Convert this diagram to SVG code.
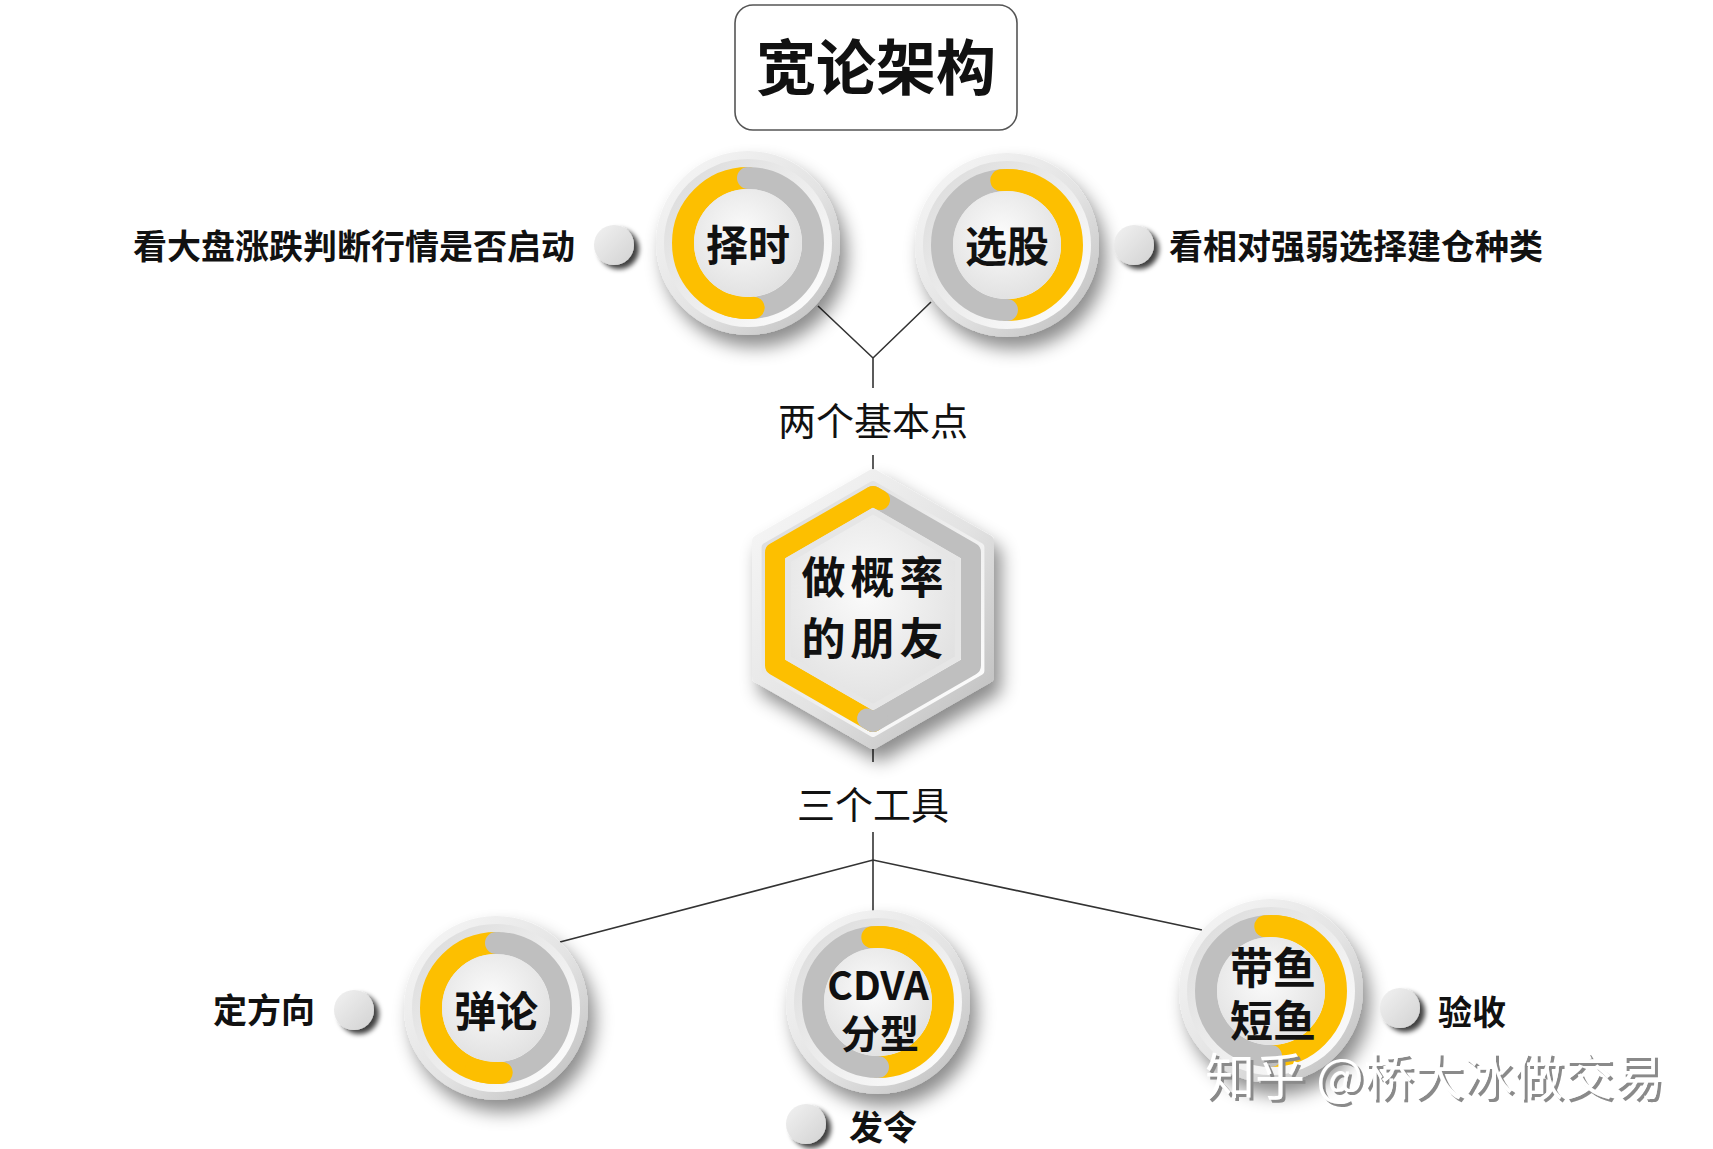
<svg xmlns="http://www.w3.org/2000/svg" width="1713" height="1149" viewBox="0 0 1713 1149">
<style>
.cjk{font-family:'Noto Sans CJK SC','Noto Sans',sans-serif}
.b{font-weight:700;fill:#111}
.mid{text-anchor:middle;dominant-baseline:central}
.lbl{font-size:34px;dominant-baseline:central}
.ry{fill:none;stroke:#FDBF00;stroke-width:22;stroke-linecap:round}
.rg{fill:none;stroke:#BFBFBF;stroke-width:22;stroke-linecap:round}
.hy{fill:none;stroke:#FDBF00;stroke-width:20;stroke-linecap:round;stroke-linejoin:round}
.hg{fill:none;stroke:#BFBFBF;stroke-width:20;stroke-linecap:round;stroke-linejoin:round}
.con{fill:none;stroke:#333;stroke-width:1.6}
.dot{fill:url(#gDot);filter:url(#dotShadow)}
</style>
<defs>
<linearGradient id="gOuter" x1="0" y1="0" x2="1" y2="1">
<stop offset="0" stop-color="#f8f8f8"/><stop offset="0.55" stop-color="#e3e3e3"/><stop offset="1" stop-color="#bcbcbc"/>
</linearGradient>
<linearGradient id="gBevel" x1="0" y1="0" x2="1" y2="1">
<stop offset="0" stop-color="#dadada"/><stop offset="1" stop-color="#ffffff"/>
</linearGradient>
<radialGradient id="gFace" cx="0.45" cy="0.4" r="0.65">
<stop offset="0" stop-color="#fbfbfb"/><stop offset="1" stop-color="#e0e0e0"/>
</radialGradient>
<linearGradient id="gDot" x1="0" y1="0" x2="1" y2="1">
<stop offset="0" stop-color="#f2f2f2"/><stop offset="1" stop-color="#d2d2d2"/>
</linearGradient>
<filter id="shadow" x="-30%" y="-30%" width="170%" height="170%">
<feDropShadow dx="7" dy="12" stdDeviation="9" flood-color="#000" flood-opacity="0.45"/>
</filter>
<filter id="dotShadow" x="-60%" y="-60%" width="240%" height="240%">
<feDropShadow dx="5" dy="4" stdDeviation="2.5" flood-color="#000" flood-opacity="0.75"/>
</filter>
<filter id="wmShadow" x="-5%" y="-20%" width="110%" height="140%">
<feDropShadow dx="3" dy="3" stdDeviation="0.6" flood-color="#8a8a8a" flood-opacity="1"/>
</filter>
<g id="disc">
<circle r="92" fill="url(#gOuter)" filter="url(#shadow)"/>
<circle r="84" fill="url(#gBevel)"/>
</g>
<g id="ringL">
<path class="ry" d="M0,-65 A65,65 0 0 0 0,65"/>
<path class="rg" d="M0,-65 A65,65 0 0 1 0,65"/>
<path class="ry" d="M-20.1,61.8 A65,65 0 0 0 5.7,64.75"/>
</g>
</defs>

<rect width="1713" height="1149" fill="#ffffff"/>

<g id="connectors">
<path class="con" d="M818,306 L873,358 L931,302 M873,358 V388"/>
<path class="con" d="M873,455 V480"/>
<path class="con" d="M873,740 V762"/>
<path class="con" d="M873,832 V860"/>
<path class="con" d="M560,942 L873,860 L1202,930 M873,860 V915"/>
</g>

<g id="title">
<rect x="735" y="5" width="282" height="125" rx="18" fill="#fff" stroke="#555" stroke-width="1.6"/>
<text class="cjk b mid" x="876" y="63" font-size="60" font-weight="900">宽论架构</text>
</g>

<g id="node-zeshi" transform="translate(748,243)">
<use href="#disc"/>
<use href="#ringL"/>
<circle r="54" fill="url(#gFace)"/>
<text class="cjk b mid" y="-1" font-size="42">择时</text>
</g>

<g id="node-xuangu" transform="translate(1007,245)">
<use href="#disc"/>
<use href="#ringL" transform="rotate(180)"/>
<circle r="54" fill="url(#gFace)"/>
<text class="cjk b mid" y="-2" font-size="42">选股</text>
</g>

<g id="label-left">
<circle class="dot" cx="614" cy="245" r="20"/>
<text class="cjk b lbl" x="133" y="244">看大盘涨跌判断行情是否启动</text>
</g>

<g id="label-right">
<circle class="dot" cx="1134" cy="245" r="20"/>
<text class="cjk b lbl" x="1169" y="244">看相对强弱选择建仓种类</text>
</g>

<g id="label-two">
<text class="cjk mid" x="873" y="418" font-size="38" fill="#111">两个基本点</text>
</g>

<g id="node-hex">
<polygon points="873,475 988,541 988,677 873,743 758,677 758,541" fill="url(#gOuter)" stroke="url(#gOuter)" stroke-width="12" stroke-linejoin="round" filter="url(#shadow)"/>
<polygon points="873,485 980.4,547 980.4,671 873,733 765.6,671 765.6,547" fill="url(#gBevel)" stroke="url(#gBevel)" stroke-width="8" stroke-linejoin="round"/>
<path class="hg" d="M873,496 L971,552.5 L971,665.5 L873,722"/>
<path class="hy" d="M880,500 L873,496 L775,552.5 L775,665.5 L873,722"/>
<path class="hg" d="M867,718.5 L873,722 L878,719"/>
<polygon points="873,511 957.9,560 957.9,658 873,707 788.1,658 788.1,560" fill="url(#gFace)" stroke="#e6e6e6" stroke-width="6" stroke-linejoin="round"/>
<text class="cjk b mid" font-size="44" letter-spacing="5"><tspan x="875" y="575">做概率</tspan><tspan x="875" y="636">的朋友</tspan></text>
</g>

<g id="label-three">
<text class="cjk mid" x="873" y="802" font-size="38" fill="#111">三个工具</text>
</g>

<g id="node-tanlun" transform="translate(496,1008)">
<use href="#disc"/>
<use href="#ringL"/>
<circle r="54" fill="url(#gFace)"/>
<text class="cjk b mid" y="0" font-size="42">弹论</text>
</g>

<g id="node-cdva" transform="translate(878,1002)">
<use href="#disc"/>
<use href="#ringL" transform="rotate(180)"/>
<circle r="54" fill="url(#gFace)"/>
<text class="cjk b mid" font-size="39"><tspan x="0" y="-19">CDVA</tspan><tspan x="2" y="29">分型</tspan></text>
</g>

<g id="node-daiyu" transform="translate(1271,991)">
<use href="#disc"/>
<use href="#ringL" transform="rotate(180)"/>
<circle r="54" fill="url(#gFace)"/>
<text class="cjk b mid" font-size="43"><tspan x="2" y="-26">带鱼</tspan><tspan x="2" y="27">短鱼</tspan></text>
</g>

<g id="label-dingfangxiang">
<circle class="dot" cx="354" cy="1010" r="20"/>
<text class="cjk b lbl" x="213" y="1008">定方向</text>
</g>

<g id="label-faling">
<circle class="dot" cx="806" cy="1124" r="20"/>
<text class="cjk b lbl" x="849" y="1125">发令</text>
</g>

<g id="label-yanshou">
<circle class="dot" cx="1400" cy="1008" r="20"/>
<text class="cjk b lbl" x="1438" y="1010">验收</text>
</g>

<g id="watermark">
<text class="cjk" x="1205" y="1095" font-size="50" fill="#ffffff" filter="url(#wmShadow)">知乎 @桥大冰做交易</text>
</g>
</svg>
